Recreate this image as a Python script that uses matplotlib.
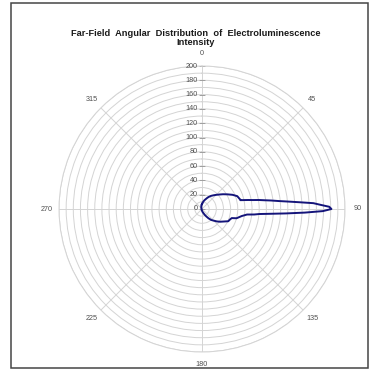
import numpy as np
import matplotlib
matplotlib.use("Agg")
import matplotlib.pyplot as plt
from matplotlib.transforms import offset_copy
from matplotlib.patches import Rectangle

# Emission angle (degrees, clockwise from 0 at top) and EL intensity
angles = [0, 5, 10, 15, 20, 25, 30, 35, 40, 45, 50, 55, 60, 65, 70, 75,
          76, 77, 78, 79, 80, 81, 82, 83, 84, 85, 86, 87, 88, 89, 90,
          91, 92, 93, 94, 95, 96, 97, 98, 100, 105, 107, 110, 115, 120,
          125, 130, 135, 140, 145, 150, 155, 160, 165, 170, 175, 180,
          190, 210, 230, 250, 270, 290, 310, 330, 340, 345, 350, 355, 360]
intensity = [7, 8.5, 10.5, 12.5, 14.5, 17, 20, 22.5, 25, 28, 31.5, 36, 41, 47, 52.5, 54.5,
             55, 55, 60, 66, 72, 80.5, 88, 97.5, 107, 120, 136, 156, 166, 178, 181,
             169, 144, 118, 96, 80.5, 73.5, 63.5, 61, 56.5, 50, 43.5, 42, 40.5, 35,
             31, 27, 23, 20, 16, 12, 9, 6.5, 5, 4, 3, 2.5,
             1.5, 1, 0.5, 0.5, 0.5, 0.5, 1, 2, 3, 4, 5, 6, 7]

angle_ticks = [0, 45, 90, 135, 180, 225, 270, 315]
radial_ticks = list(range(0, 201, 10))
radial_labels = [str(r) for r in range(0, 201, 20)]

title = "Far-Field  Angular  Distribution  of  Electroluminescence\nIntensity"

W, H = 370, 371
fig = plt.figure(figsize=(W / 100, H / 100), dpi=100)
fig.patch.set_facecolor("white")

cx, cy, R = 202, 209, 143
ax = fig.add_axes([(cx - R) / W, (H - cy - R) / H, 2 * R / W, 2 * R / H],
                  projection="polar")
ax.set_theta_zero_location("N")
ax.set_theta_direction(-1)
ax.set_ylim(0, 200)

grid_col = "#d4d4d4"
ax.set_yticks(radial_ticks)
ax.set_yticklabels([])
ax.set_thetagrids(angle_ticks, [str(a) for a in angle_ticks],
                  fontsize=5.2, color="#505050", family="Liberation Sans")
ax.tick_params(axis="x", pad=-1.5)
ax.grid(True, color=grid_col, linewidth=0.7)
ax.spines["polar"].set_color(grid_col)
ax.spines["polar"].set_linewidth(0.7)

# radial value labels along the 0-degree spoke
lab_tr = offset_copy(ax.transData, fig=fig, x=-4, y=0, units="dots")
for lab in radial_labels:
    r = float(lab)
    ax.text(0, r, lab, transform=lab_tr, ha="right", va="center",
            fontsize=5.2, color="#505050", family="Liberation Sans")
    ax.plot([0], [r], marker="_", color="#a0a0a0", markersize=4,
            markeredgewidth=0.6)

theta = np.deg2rad(angles)
ax.plot(theta, intensity, color="#14147a", linewidth=1.4, solid_joinstyle="round")

fig.text(196 / W, 1 - 38 / H, title, ha="center", va="center",
         fontsize=6.7, fontweight="bold", family="Liberation Sans",
         color="#1a1a1a", linespacing=1.0)

# outer frame
fig.patches.append(Rectangle((11 / W, 1 - 368 / H), 357 / W, 365 / H,
                             transform=fig.transFigure, fill=False,
                             edgecolor="#454545", linewidth=1.1))

fig.savefig("out.png", dpi=100, facecolor="white")
